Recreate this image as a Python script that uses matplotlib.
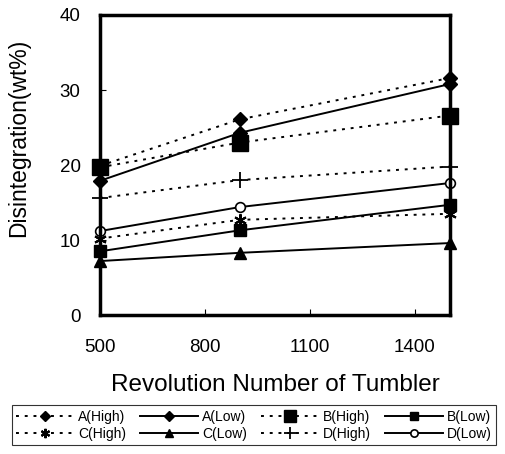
import matplotlib
matplotlib.use("Agg")
import matplotlib.pyplot as plt

plt.rcParams['font.family'] = ['Liberation Sans', 'DejaVu Sans']

# 数据
revolutions = [500, 900, 1500]
a_high = [19.9, 26.1, 31.6]
a_low = [17.9, 24.3, 30.8]
b_high = [19.7, 23.0, 26.6]
b_low = [8.5, 11.3, 14.7]
c_high = [10.2, 12.7, 13.5]
c_low = [7.2, 8.3, 9.6]
d_high = [15.6, 18.0, 19.8]
d_low = [11.2, 14.4, 17.6]

dot = (0, (1.5, 3))
series = [
    ("A(High)", a_high, dict(ls=dot, marker='D', ms=7, mfc='black')),
    ("A(Low)", a_low, dict(ls='-', marker='D', ms=7, mfc='black')),
    ("B(High)", b_high, dict(ls=dot, marker='s', ms=11, mfc='black')),
    ("B(Low)", b_low, dict(ls='-', marker='s', ms=8, mfc='black')),
    ("C(High)", c_high, dict(ls=dot, marker=(6, 2, 0), ms=9, mew=1.5)),
    ("C(Low)", c_low, dict(ls='-', marker='^', ms=8, mfc='black')),
    ("D(High)", d_high, dict(ls=dot, marker='+', ms=11, mew=1.3)),
    ("D(Low)", d_low, dict(ls='-', marker='o', ms=7, mfc='white', mew=1.2)),
]

fig = plt.figure(figsize=(5.05, 4.54), dpi=100)
ax = fig.add_axes([0.198, 0.306, 0.693, 0.661])

lines = []
for name, vals, style in series:
    ln, = ax.plot(revolutions, vals, color='black', lw=1.4, mec='black', label=name,
                  clip_on=False, **style)
    lines.append(ln)

ax.set_xlim(500, 1500)
ax.set_ylim(0, 40)
ax.set_xticks([500, 800, 1100, 1400])
ax.set_yticks([0, 10, 20, 30, 40])
ax.tick_params(direction='in', length=4, labelsize=13.5)
ax.tick_params(axis='x', pad=17)
ax.tick_params(axis='y', pad=14)
for sp in ax.spines.values():
    sp.set_linewidth(2.5)

ax.set_xlabel("Revolution Number of Tumbler", fontsize=17.5)
ax.set_ylabel("Disintegration(wt%)", fontsize=16.5)
ax.xaxis.set_label_coords(0.5, -0.195)
ax.yaxis.set_label_coords(-0.2, 0.59)

# 图例按行排列
order = [0, 4, 1, 5, 2, 6, 3, 7]
leg = fig.legend([lines[i] for i in order], [series[i][0] for i in order],
                 loc='lower left', bbox_to_anchor=(0.01, 0.004, 0.985, 0.1),
                 mode='expand', ncol=4, fontsize=10, handlelength=4.2,
                 handletextpad=0.25, columnspacing=0.3, borderpad=0.3,
                 labelspacing=0.25, markerscale=0.75,
                 frameon=True, fancybox=False, edgecolor='black')
leg.get_frame().set_linewidth(0.8)

fig.savefig("out.png", dpi=100)
